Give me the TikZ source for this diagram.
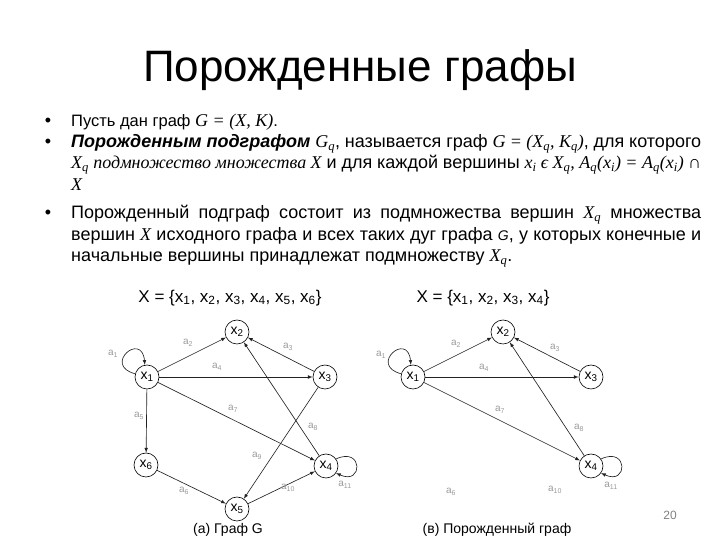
\documentclass[tikz,border=0pt]{standalone}
\usepackage{fontspec}
\setmainfont{Liberation Sans}
\newfontfamily\timesfont{Liberation Serif}
\usepackage{tikz}
\usetikzlibrary{arrows}
\usepackage{xcolor}
\definecolor{lblgray}{HTML}{9A9A9A}
\definecolor{arcgray}{HTML}{222222}

\newcommand{\mv}[1]{{\timesfont\itshape\fontsize{18}{21.5}\selectfont #1}}
\newcommand{\sq}[1]{\textsubscript{#1}}

\tikzset{
  vtx/.style={draw, circle, minimum size=24pt, inner sep=0pt, line width=0.6pt, font=\fontsize{14}{14}\selectfont},
  lbl/.style={text=lblgray, inner sep=0pt, font=\fontsize{10}{10}\selectfont},
  arc/.style={draw=arcgray, line width=0.65pt, -latex},
  para/.style={anchor=base west, inner sep=0pt, text width=630pt, align=justify, font=\fontsize{18}{21.5}\selectfont},
  bul/.style={anchor=base, inner sep=0pt, font=\fontsize{18}{21.5}\selectfont},
}

\begin{document}
\begin{tikzpicture}[x=1pt,y=1pt]
  \useasboundingbox (0,0) rectangle (720,540);

  \node[anchor=base, font=\fontsize{44}{44}\selectfont] (title) at (360,458) {Порожденные графы};

  \node[bul] (b1) at (48,413) {•};
  \node[bul] (b2) at (48,392.5) {•};
  \node[bul] (b3) at (48,321) {•};
  \node[para, font=\fontsize{16.5}{21.5}\selectfont] (p1) at (71,413) {Пусть дан граф \mv{G = (X, K)}.};
  \node[para] (p2) at (71,392.5) {\textbf{\textit{Порожденным подграфом}} \mv{G\sq{q}}, называется граф \mv{G = (X\sq{q}, K\sq{q})}, для которого\linebreak
    \mv{X\sq{q} подмножество множества X} и для каждой вершины \mv{x\sq{i} ϵ X\sq{q}, A\sq{q}(x\sq{i}) = A\sq{q}(x\sq{i}) ∩}\linebreak
    \mv{X}};
  \node[para] (p3) at (71,321) {Порожденный подграф состоит из подмножества вершин \mv{X\sq{q}} множества\linebreak
    вершин \mv{X} исходного графа и всех таких дуг графа {\itshape\fontsize{14}{14}\selectfont G}, у которых конечные и\linebreak
    начальные вершины принадлежат подмножеству \mv{X\sq{q}}.};

  % graph G
  \node[font=\fontsize{17}{17}\selectfont] (setG) at (230,242) {X = \{x\sq{1}, x\sq{2}, x\sq{3}, x\sq{4}, x\sq{5}, x\sq{6}\}};
  \node[vtx] (x1) at (147,163) {x\sq{1}};
  \node[vtx] (x2) at (237,208) {x\sq{2}};
  \node[vtx] (x3) at (325,163) {x\sq{3}};
  \node[vtx] (x4) at (326,74) {x\sq{4}};
  \node[vtx] (x5) at (237,31) {x\sq{5}};
  \node[vtx] (x6) at (146,75) {x\sq{6}};

  \draw[arc] (x1.165) .. controls +(165:34) and +(95:34) .. (x1.100);
  \draw[arc] (x1) -- (x2);
  \draw[arc] (x3) -- (x2);
  \draw[arc] (x1) -- (x3);
  \draw[arc] (x1) -- (x6);
  \draw[arc] (x1) -- (x4);
  \draw[arc] (x4) -- (x2);
  \draw[arc] (x3) -- (x5);
  \draw[arc] (x6) -- (x5);
  \draw[arc] (x5) -- (x4);
  \draw[arc] (x4.35) .. controls +(25:30) and +(-25:30) .. (x4.-35);

  \node[lbl] (la1) at (113,186) {a\sq{1}};
  \node[lbl] (la2) at (188,197) {a\sq{2}};
  \node[lbl] (la3) at (288,193) {a\sq{3}};
  \node[lbl] (la4) at (217,173) {a\sq{4}};
  \node[lbl] (la5) at (139,124) {a\sq{5}};
  \node[lbl] (la6) at (184,49) {a\sq{6}};
  \node[lbl] (la7) at (233,131) {a\sq{7}};
  \node[lbl] (la8) at (313,113) {a\sq{8}};
  \node[lbl] (la9) at (257,84) {a\sq{9}};
  \node[lbl] (la10) at (288,52) {a\sq{10}};
  \node[lbl] (la11) at (345,55) {a\sq{11}};
  \node[font=\fontsize{14}{14}\selectfont] (capG) at (228,10) {(а) Граф G};

  % induced graph
  \node[font=\fontsize{17}{17}\selectfont] (setH) at (483,242) {X = \{x\sq{1}, x\sq{2}, x\sq{3}, x\sq{4}\}};
  \node[vtx] (h1) at (413,163) {x\sq{1}};
  \node[vtx] (h2) at (503,208) {x\sq{2}};
  \node[vtx] (h3) at (591,163) {x\sq{3}};
  \node[vtx] (h4) at (591,74) {x\sq{4}};

  \draw[arc] (h1.165) .. controls +(165:34) and +(95:34) .. (h1.100);
  \draw[arc] (h1) -- (h2);
  \draw[arc] (h3) -- (h2);
  \draw[arc] (h1) -- (h3);
  \draw[arc] (h1) -- (h4);
  \draw[arc] (h4) -- (h2);
  \draw[arc] (h4.35) .. controls +(25:30) and +(-25:30) .. (h4.-35);

  \node[lbl] (ha1) at (381,185) {a\sq{1}};
  \node[lbl] (ha2) at (456,196) {a\sq{2}};
  \node[lbl] (ha3) at (555,192) {a\sq{3}};
  \node[lbl] (ha4) at (484,172) {a\sq{4}};
  \node[lbl] (ha6) at (451,48) {a\sq{6}};
  \node[lbl] (ha7) at (500,130) {a\sq{7}};
  \node[lbl] (ha8) at (579,112) {a\sq{8}};
  \node[lbl] (ha10) at (555,50) {a\sq{10}};
  \node[lbl] (ha11) at (611,54) {a\sq{11}};
  \node[font=\fontsize{14}{14}\selectfont] (capH) at (497,10) {(в) Порожденный граф};

  \node[text=gray, font=\fontsize{12}{12}\selectfont] (num) at (670,25) {20};
\end{tikzpicture}
\end{document}
